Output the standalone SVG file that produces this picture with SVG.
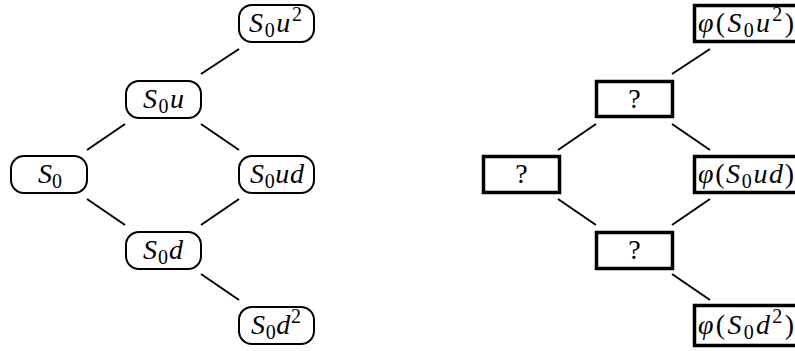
<svg xmlns="http://www.w3.org/2000/svg" width="795" height="351" viewBox="0 0 795 351">
<style>
.rn{fill:#fff;stroke:#000;stroke-width:2}
.sq{fill:#fff;stroke:#000;stroke-width:3.5}
.c{stroke:#000;stroke-width:2;fill:none}
text{font-family:"Liberation Serif","DejaVu Serif",serif;font-size:28px;fill:#000}
.m{text-anchor:middle}
.i{font-style:italic}
.s{font-size:20px}
</style>
<rect width="795" height="351" fill="#fff"/>
<g id="connectors">
<line class="c" x1="239" y1="49" x2="201" y2="74"/>
<line class="c" x1="125" y1="124" x2="87" y2="150"/>
<line class="c" x1="201" y1="124" x2="239" y2="150"/>
<line class="c" x1="87" y1="199" x2="125" y2="225"/>
<line class="c" x1="239" y1="199" x2="201" y2="225"/>
<line class="c" x1="201" y1="274" x2="239" y2="300"/>
<line class="c" x1="710" y1="49" x2="672" y2="74"/>
<line class="c" x1="596" y1="124" x2="558" y2="150"/>
<line class="c" x1="672" y1="124" x2="710" y2="150"/>
<line class="c" x1="558" y1="199" x2="596" y2="225"/>
<line class="c" x1="710" y1="199" x2="672" y2="225"/>
<line class="c" x1="672" y1="274" x2="710" y2="300"/>
</g>
<g id="n_S0u2"><rect class="rn" x="239" y="5" width="75" height="37" rx="13"/><text x="249" y="32" textLength="53" lengthAdjust="spacing"><tspan class="i">S</tspan><tspan class="s" dy="5">0</tspan><tspan class="i" dy="-5">u</tspan><tspan class="s" dy="-11">2</tspan></text></g>
<g id="n_S0u"><rect class="rn" x="126" y="81" width="75" height="37" rx="13"/><text x="143" y="108" textLength="41" lengthAdjust="spacing"><tspan class="i">S</tspan><tspan class="s" dy="5">0</tspan><tspan class="i" dy="-5">u</tspan></text></g>
<g id="n_S0"><rect class="rn" x="11" y="156" width="76" height="37" rx="13"/><text class="m" x="50" y="183"><tspan class="i">S</tspan><tspan class="s" dy="5">0</tspan></text></g>
<g id="n_S0ud"><rect class="rn" x="239" y="156" width="75" height="37" rx="13"/><text x="250" y="183" textLength="54" lengthAdjust="spacing"><tspan class="i">S</tspan><tspan class="s" dy="5">0</tspan><tspan class="i" dy="-5">ud</tspan></text></g>
<g id="n_S0d"><rect class="rn" x="126" y="232" width="75" height="37" rx="13"/><text x="143" y="259" textLength="40" lengthAdjust="spacing"><tspan class="i">S</tspan><tspan class="s" dy="5">0</tspan><tspan class="i" dy="-5">d</tspan></text></g>
<g id="n_S0d2"><rect class="rn" x="239" y="307" width="75" height="37" rx="13"/><text x="251" y="334" textLength="50" lengthAdjust="spacing"><tspan class="i">S</tspan><tspan class="s" dy="5">0</tspan><tspan class="i" dy="-5">d</tspan><tspan class="s" dy="-11">2</tspan></text></g>
<g id="n_phiu2"><rect class="sq" x="694.5" y="5.5" width="110" height="36"/><text x="698" y="32" textLength="96" lengthAdjust="spacing"><tspan class="i">φ</tspan>(<tspan class="i">S</tspan><tspan class="s" dy="5">0</tspan><tspan class="i" dy="-5">u</tspan><tspan class="s" dy="-11">2</tspan><tspan dy="11">)</tspan></text></g>
<g id="n_q1"><rect class="sq" x="596.5" y="81.5" width="76" height="35"/><text class="m" x="634.5" y="108">?</text></g>
<g id="n_q0"><rect class="sq" x="483.5" y="156.5" width="76" height="36"/><text class="m" x="521.5" y="183">?</text></g>
<g id="n_phiud"><rect class="sq" x="694.5" y="156.5" width="110" height="36"/><text x="698" y="183" textLength="96" lengthAdjust="spacing"><tspan class="i">φ</tspan>(<tspan class="i">S</tspan><tspan class="s" dy="5">0</tspan><tspan class="i" dy="-5">ud</tspan>)</text></g>
<g id="n_q2"><rect class="sq" x="596.5" y="232.5" width="76" height="36"/><text class="m" x="634.5" y="259">?</text></g>
<g id="n_phid2"><rect class="sq" x="694.5" y="305.5" width="110" height="40"/><text x="698" y="334" textLength="96" lengthAdjust="spacing"><tspan class="i">φ</tspan>(<tspan class="i">S</tspan><tspan class="s" dy="5">0</tspan><tspan class="i" dy="-5">d</tspan><tspan class="s" dy="-11">2</tspan><tspan dy="11">)</tspan></text></g>
</svg>
